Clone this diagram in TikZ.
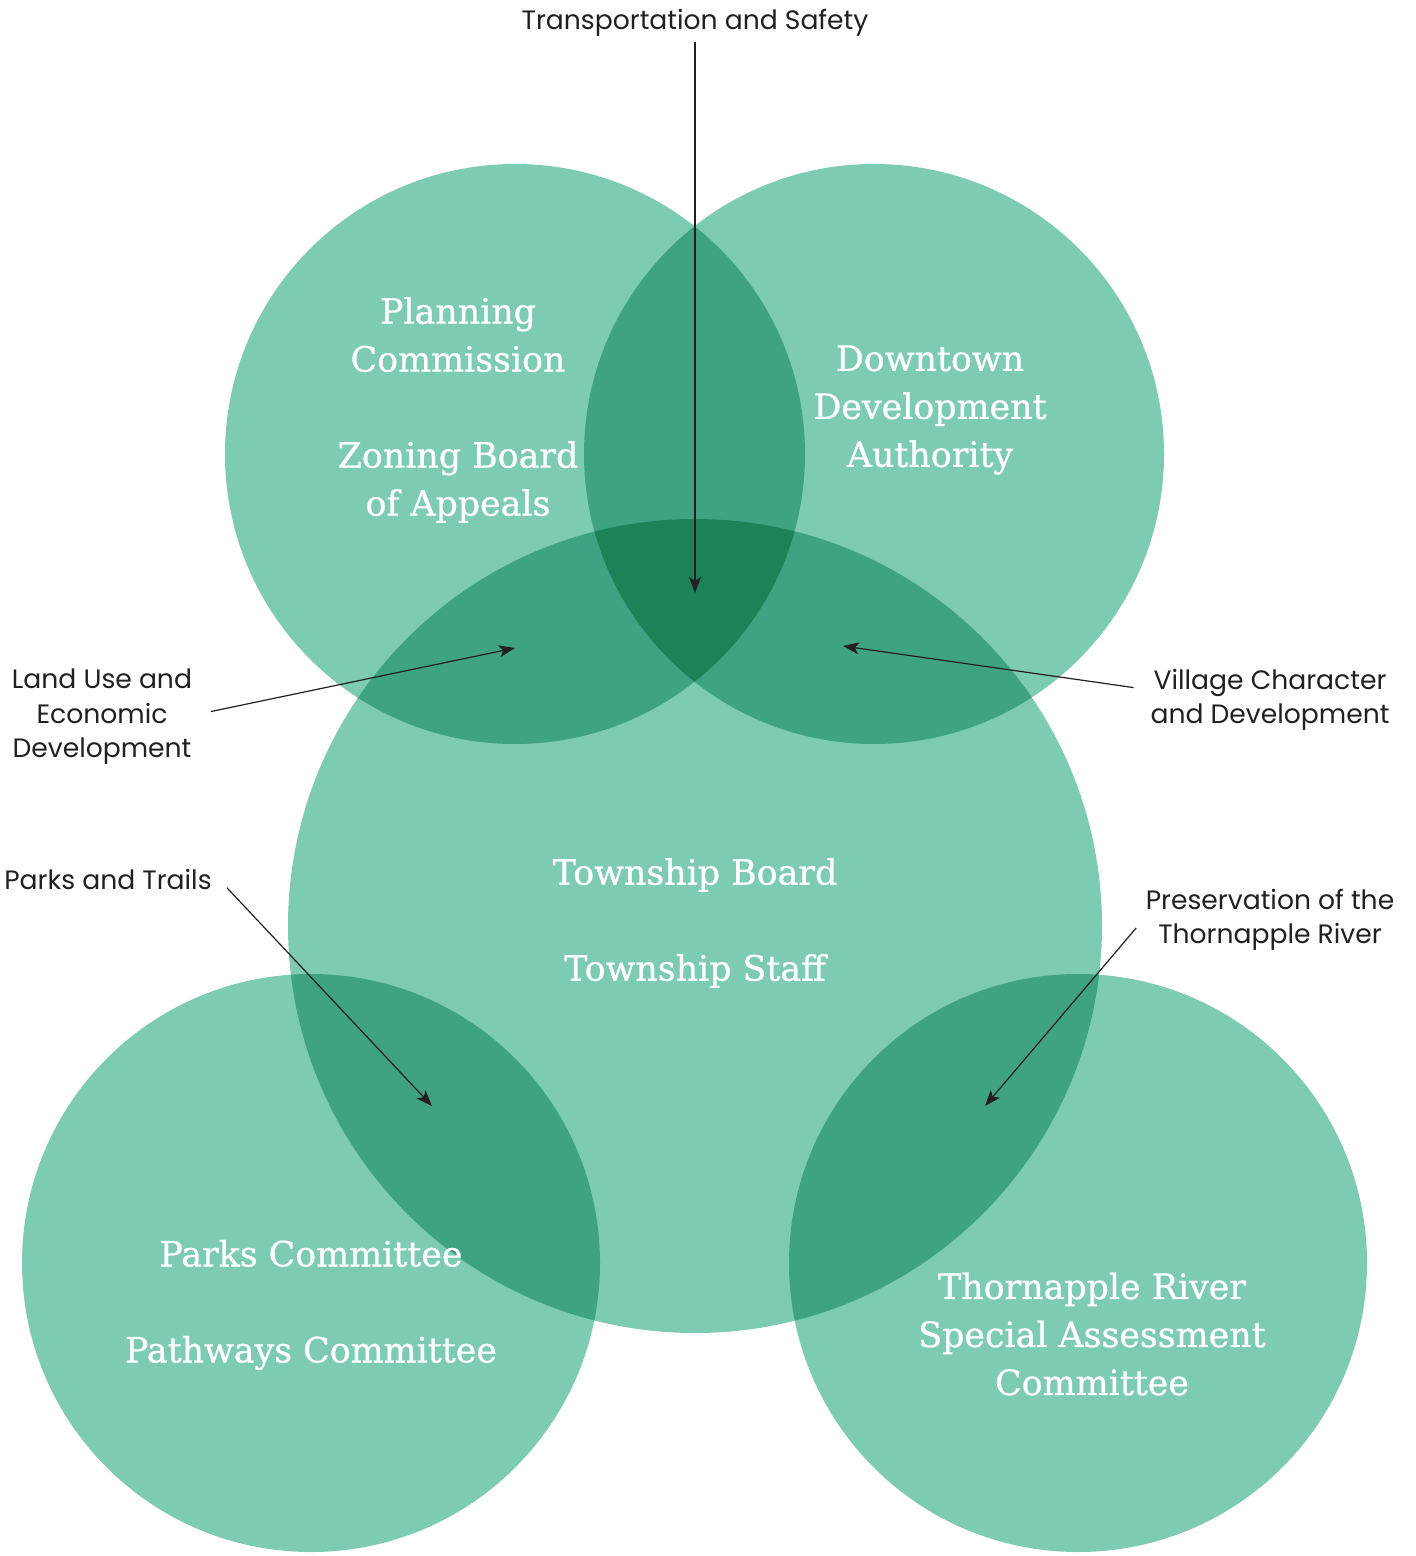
\documentclass[tikz,border=0pt]{standalone}
\usepackage{fontspec}
\setmainfont{DejaVu Serif}
\newfontfamily\groupfont{DejaVu Serif}[FakeBold=0.8]
\newfontfamily\calloutfont{Poppins}
\usetikzlibrary{arrows.meta}
\definecolor{lightgreen}{HTML}{7ECBB4}
\definecolor{midgreen}{HTML}{3FA383}
\definecolor{darkgreen}{HTML}{1E8259}
\definecolor{inkgray}{HTML}{231F20}

\begin{document}
\begin{tikzpicture}[x=0.5pt, y=-0.5pt,
  group/.style = {align=center, text=white, inner sep=0pt,
    font=\groupfont\fontsize{17.4}{24}\selectfont},
  callout/.style = {align=center, text=inkgray,
    font=\calloutfont\fontsize{13.3}{17.2}\selectfont},
  pointer/.style = {draw=inkgray, line width=0.6pt,
    -{Stealth[length=8pt, width=6pt, inset=2pt]}}]

\useasboundingbox (0,0) rectangle (1415,1556);

% Circle centres
\coordinate (planning) at (515,454);
\coordinate (downtown) at (874,454);
\coordinate (township) at (695,926);
\coordinate (parks) at (311,1263);
\coordinate (river) at (1078,1263);

% Plain circles
\fill[lightgreen] (planning) circle[radius=290];
\fill[lightgreen] (downtown) circle[radius=290];
\fill[lightgreen] (township) circle[radius=407];
\fill[lightgreen] (parks) circle[radius=289];
\fill[lightgreen] (river) circle[radius=289];

% Overlaps of two circles
\begin{scope}
  \clip (planning) circle[radius=290];
  \fill[midgreen] (downtown) circle[radius=290];
  \fill[midgreen] (township) circle[radius=407];
\end{scope}
\begin{scope}
  \clip (downtown) circle[radius=290];
  \fill[midgreen] (township) circle[radius=407];
\end{scope}
\begin{scope}
  \clip (township) circle[radius=407];
  \fill[midgreen] (parks) circle[radius=289];
  \fill[midgreen] (river) circle[radius=289];
\end{scope}

% Overlap of all three
\begin{scope}
  \clip (planning) circle[radius=290];
  \clip (downtown) circle[radius=290];
  \fill[darkgreen] (township) circle[radius=407];
\end{scope}

% Group names
\node[group] (planningtext) at (458,410) {Planning\\Commission\\[24pt]Zoning Board\\of Appeals};
\node[group] (downtowntext) at (930,410) {Downtown\\Development\\Authority};
\node[group] (townshiptext) at (695,923) {Township Board\\[24pt]Township Staff};
\node[group] (parkstext) at (311,1305) {Parks Committee\\[24pt]Pathways Committee};
\node[group] (rivertext) at (1092,1334) {Thornapple River\\Special Assessment\\Committee};

% Shared topics
\node[callout] (safety) at (695,23) {Transportation and Safety};
\node[callout] (landuse) at (102,717) {Land Use and\\Economic\\Development};
\node[callout] (village) at (1270,700) {Village Character\\and Development};
\node[callout] (trails) at (108,879) {Parks and Trails};
\node[callout] (preserve) at (1270,920) {Preservation of the\\Thornapple River};

% Pointer tips
\coordinate (safetytip) at (695,593);
\coordinate (landusetip) at (515,648);
\coordinate (villagetip) at (843,646);
\coordinate (trailstip) at (432,1106);
\coordinate (preservetip) at (985,1106);

\draw[pointer] (safety.south) ++(0,-2) -- (safetytip);
\draw[pointer, shorten <=6pt] ([yshift=1.5pt]landuse.east) -- (landusetip);
\draw[pointer, shorten <=5pt] ([yshift=5.5pt]village.west) -- (villagetip);
\draw[pointer, shorten <=6pt] (trails.east) -- (trailstip);
\draw[pointer, shorten <=2pt] ([yshift=-2.5pt]preserve.west) -- (preservetip);
\end{tikzpicture}
\end{document}
